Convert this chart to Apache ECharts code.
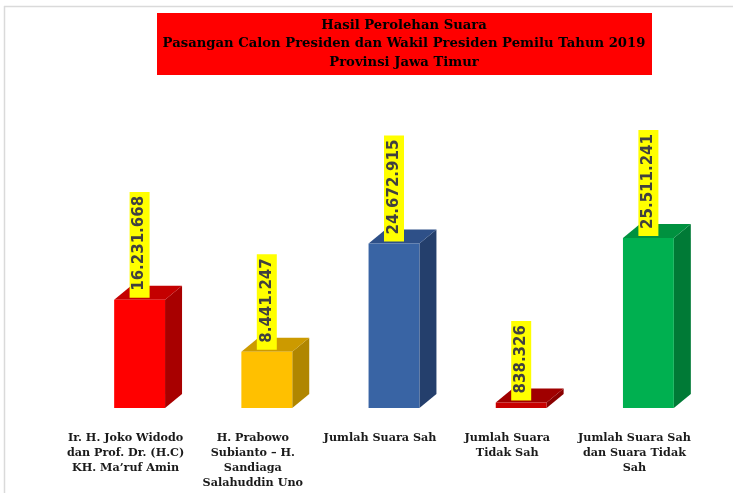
<!DOCTYPE html>
<html>
<head>
<meta charset="utf-8">
<script src="https://cdn.jsdelivr.net/npm/echarts@6/dist/echarts.min.js"></script>
<style>
  html, body { margin: 0; padding: 0; background: #fff; }
  #chart { width: 733px; height: 493px; }
</style>
</head>
<body>
<div id="chart"></div>
<script>
// categories and values
const categories = [
  "Ir. H. Joko Widodo\ndan Prof. Dr. (H.C)\nKH. Ma\u2019ruf Amin",
  "H. Prabowo\nSubianto \u2013 H.\nSandiaga\nSalahuddin Uno",
  "Jumlah Suara Sah",
  "Jumlah Suara\nTidak Sah",
  "Jumlah Suara Sah\ndan Suara Tidak\nSah"
];
const votes = [16231668, 8441247, 24672915, 838326, 25511241];

// front / side / top colours for each bar
const frontColors = ["#FF0000", "#FFC000", "#3964A4", "#C80000", "#00B050"];
const sideColors = ["#A80000", "#B08600", "#243F6C", "#8A0000", "#007A36"];
const topColors = ["#C40000", "#CC9A00", "#2E5088", "#A00000", "#00913F"];

const titleLines = [
  "Hasil Perolehan Suara",
  "Pasangan Calon Presiden dan Wakil Presiden Pemilu Tahun 2019",
  "Provinsi Jawa Timur"
];

const fmt = (v) => String(v).replace(/\B(?=(\d{3})+(?!\d))/g, ".");

const DX = 17, DY = 14;

const chart = echarts.init(document.getElementById("chart"));

chart.setOption({
  backgroundColor: "#fff",
  animation: false,
  graphic: [
    { type: "line", shape: { x1: 4, y1: 6.5, x2: 733, y2: 6.5 }, style: { stroke: "#DADADA", lineWidth: 1.5 } },
    { type: "line", shape: { x1: 4.5, y1: 6, x2: 4.5, y2: 493 }, style: { stroke: "#DADADA", lineWidth: 1.5 } },
    { type: "rect", shape: { x: 157, y: 13, width: 495, height: 62 }, style: { fill: "#FF0000" } },
    {
      type: "text", x: 404, y: 44,
      style: {
        text: titleLines.join("\n"),
        font: "bold 13.2px 'DejaVu Serif'",
        lineHeight: 18.5,
        fill: "#000",
        align: "center",
        verticalAlign: "middle"
      }
    }
  ],
  grid: { left: 76, right: 21, top: 208, bottom: 85 },
  xAxis: {
    type: "category",
    data: categories,
    axisLine: { show: false },
    axisTick: { show: false },
    axisLabel: {
      interval: 0,
      margin: 23,
      color: "#1a1a1a",
      fontFamily: "DejaVu Serif",
      fontWeight: "bold",
      fontSize: 11.2,
      lineHeight: 15,
      verticalAlign: "top",
      padding: [0, 28, 0, 0]
    }
  },
  yAxis: { type: "value", min: 0, max: 30000000, show: false, splitLine: { show: false } },
  series: [{
    type: "custom",
    data: votes.map((v, i) => [i, v]),
    renderItem: (params, api) => {
      const i = params.dataIndex;
      const top = api.coord([api.value(0), api.value(1)]);
      const base = api.coord([api.value(0), 0]);
      const w = api.size([1, 0])[0] * 0.4;
      const x0 = top[0] - w / 2, x1 = top[0] + w / 2;
      const y0 = top[1], y1 = base[1];
      return {
        type: "group",
        children: [
          { type: "polygon", shape: { points: [[x1, y0], [x1 + DX, y0 - DY], [x1 + DX, y1 - DY], [x1, y1]] }, style: { fill: sideColors[i] } },
          { type: "polygon", shape: { points: [[x0, y0], [x0 + DX, y0 - DY], [x1 + DX, y0 - DY], [x1, y0]] }, style: { fill: topColors[i] } },
          { type: "rect", shape: { x: x0, y: y0, width: w, height: y1 - y0 }, style: { fill: frontColors[i] } },
          {
            type: "text", x: top[0], y: y0 - 2, rotation: Math.PI / 2,
            style: {
              text: fmt(votes[i]),
              font: "bold 15px 'DejaVu Sans'",
              fill: "#404040",
              backgroundColor: "#FFFF00",
              padding: [3, 4, 2, 7],
              align: "left",
              verticalAlign: "middle"
            }
          }
        ]
      };
    }
  }]
});
</script>
</body>
</html>
